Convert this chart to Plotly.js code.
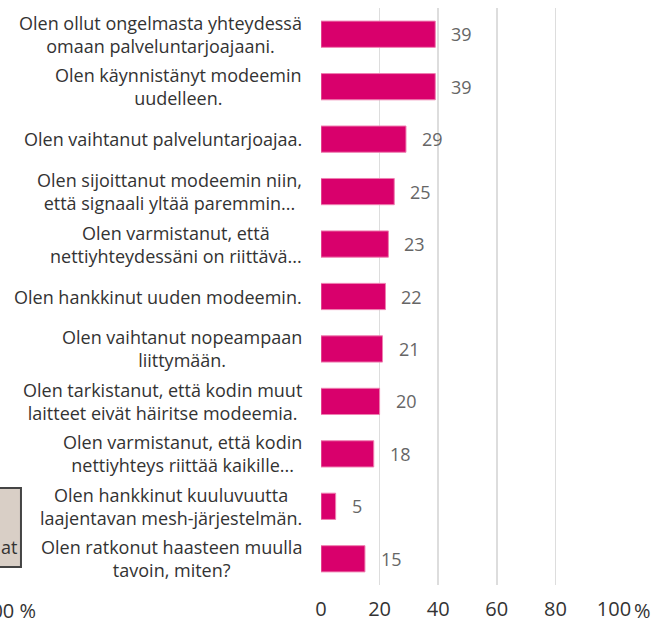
<!DOCTYPE html>
<html>
<head>
<meta charset="utf-8">
<script src="https://cdn.plot.ly/plotly-3.0.1.min.js"></script>
<style>html,body{margin:0;padding:0;background:#fff;}#chart{width:658px;height:624px;}</style>
</head>
<body>
<div id="chart"></div>
<script>
var categories = [
  "Olen ollut ongelmasta yhteydessä<br>omaan palveluntarjoajaani.",
  "Olen käynnistänyt modeemin<br>uudelleen.",
  "Olen vaihtanut palveluntarjoajaa.",
  "Olen sijoittanut modeemin niin,<br>että signaali yltää paremmin...",
  "Olen varmistanut, että<br>nettiyhteydessäni on riittävä...",
  "Olen hankkinut uuden modeemin.",
  "Olen vaihtanut nopeampaan<br>liittymään.",
  "Olen tarkistanut, että kodin muut<br>laitteet eivät häiritse modeemia.",
  "Olen varmistanut, että kodin<br>nettiyhteys riittää kaikille...",
  "Olen hankkinut kuuluvuutta<br>laajentavan mesh-järjestelmän.",
  "Olen ratkonut haasteen muulla<br>tavoin, miten?"
];
var values = [39, 39, 29, 25, 23, 22, 21, 20, 18, 5, 15];
var tickVals = [0, 20, 40, 60, 80, 100];
var tickText = ["0", "20", "40", "60", "80", "100"];
var unitLabel = "%";
var clippedLegendText = "at";
var clippedTickText = "100 %";

var FONT = "Open Sans, sans-serif";
var keys = categories.map(function(c, i){ return "c" + i; });

var annotations = [];
categories.forEach(function(c, i){
  annotations.push({
    xref: "paper", yref: "y", x: 0, y: keys[i],
    xanchor: "right", yanchor: "middle", xshift: -17,
    text: c, align: "center", showarrow: false,
    font: {family: FONT, size: 18, color: "#333333"}
  });
  annotations.push({
    xref: "x", yref: "y", x: values[i], y: keys[i],
    xanchor: "left", yanchor: "middle", xshift: 14,
    text: String(values[i]), showarrow: false,
    font: {family: FONT, size: 18, color: "#666666"}
  });
});
// percent sign after last tick
annotations.push({
  xref: "x", yref: "paper", x: 100, y: 0, yanchor: "top", xanchor: "left",
  xshift: 18, yshift: -10, text: unitLabel, showarrow: false,
  font: {family: FONT, size: 20, color: "#333333"}
});
// clipped neighbouring-chart elements at left edge
annotations.push({
  xref: "paper", yref: "paper", x: -0.967, y: 0, yanchor: "top", xanchor: "right",
  yshift: -10, text: clippedTickText, showarrow: false,
  font: {family: FONT, size: 20, color: "#333333"}
});
annotations.push({
  xref: "paper", yref: "paper", x: -1.03, y: 0.066, yanchor: "middle", xanchor: "right",
  text: clippedLegendText, showarrow: false,
  font: {family: FONT, size: 18, color: "#333333"}
});

var trace = {
  type: "bar", orientation: "h",
  x: values, y: keys,
  marker: {color: "#d9006c", line: {color: "#ee7fb0", width: 1}},
  hoverinfo: "skip"
};

var layout = {
  width: 658, height: 624,
  margin: {l: 321, r: 44, t: 8, b: 39, pad: 0},
  paper_bgcolor: "#ffffff", plot_bgcolor: "#ffffff",
  showlegend: false,
  bargap: 0.5,
  font: {family: FONT, color: "#333333"},
  xaxis: {
    range: [0, 100], tickvals: tickVals, ticktext: tickText,
    showgrid: true, gridcolor: "#dddddd", gridwidth: 1.5,
    zeroline: false, showline: false, ticks: "",
    ticklabelstandoff: 10,
    tickfont: {family: FONT, size: 20, color: "#333333"},
    fixedrange: true
  },
  yaxis: {
    categoryorder: "array", categoryarray: keys, autorange: "reversed",
    showticklabels: false, showgrid: false, zeroline: false, showline: false, ticks: "",
    fixedrange: true
  },
  shapes: [{
    type: "rect", xref: "paper", yref: "paper",
    x0: -1.3, x1: -1.024, y0: 0.0312, y1: 0.168,
    fillcolor: "#d9cfc6", line: {color: "#444444", width: 2}, layer: "above"
  }],
  annotations: annotations
};

Plotly.newPlot("chart", [trace], layout, {displayModeBar: false, staticPlot: true});
</script>
</body>
</html>
